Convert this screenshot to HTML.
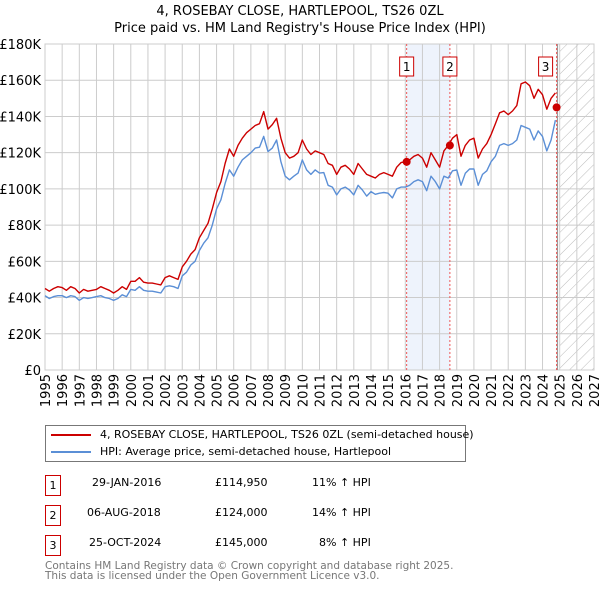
<!DOCTYPE html>
<html><head><meta charset="utf-8">
<style>
body{margin:0;background:#fff;font-family:"DejaVu Sans","Liberation Sans",sans-serif;}
#wrap{position:relative;width:600px;height:590px;overflow:hidden;}
svg text{font-family:"DejaVu Sans","Liberation Sans",sans-serif;}
.t{position:absolute;font-size:11px;color:#000;white-space:nowrap;}
.box{position:absolute;width:14px;height:19px;border:1px solid #c00;font-size:11px;text-align:center;line-height:19px;}
</style></head><body>
<div id="wrap">
<svg id="chart" width="600" height="420" style="position:absolute;left:0;top:0"></svg>
<div style="position:absolute;left:45px;top:425px;width:419px;height:35px;border:1px solid #777;">
  <div style="position:absolute;left:5px;top:2px;font-size:11px;white-space:nowrap;"><span style="display:inline-block;width:40px;height:2px;background:#c00;vertical-align:middle;margin-right:9px"></span>4, ROSEBAY CLOSE, HARTLEPOOL, TS26 0ZL (semi-detached house)</div>
  <div style="position:absolute;left:5px;top:19px;font-size:11px;white-space:nowrap;"><span style="display:inline-block;width:40px;height:2px;background:#5b8fd6;vertical-align:middle;margin-right:9px"></span>HPI: Average price, semi-detached house, Hartlepool</div>
</div>
<div class="box" style="left:45px;top:475px">1</div>
<div class="t" style="left:92px;top:476px">29-JAN-2016</div>
<div class="t" style="left:215px;top:476px">£114,950</div>
<div class="t" style="left:312px;top:476px">11% ↑ HPI</div>
<div class="box" style="left:45px;top:505px">2</div>
<div class="t" style="left:87px;top:506px">06-AUG-2018</div>
<div class="t" style="left:215px;top:506px">£124,000</div>
<div class="t" style="left:312px;top:506px">14% ↑ HPI</div>
<div class="box" style="left:45px;top:535px">3</div>
<div class="t" style="left:89px;top:536px">25-OCT-2024</div>
<div class="t" style="left:215px;top:536px">£145,000</div>
<div class="t" style="left:319px;top:536px">8% ↑ HPI</div>
<div class="t" style="left:45px;top:561px;color:#777;line-height:10px;font-size:10.5px">Contains HM Land Registry data © Crown copyright and database right 2025.<br>This data is licensed under the Open Government Licence v3.0.</div>
</div>
<script>
const hpi=[41,39.5,40.5,41, 41,40,41,40.5, 38.5,40,39.5,40, 40.5,41,40,39.5, 38.5,39.5,41.5,40.5,
44.5,44,46,44, 43.5,43.5,43,42.5, 46,46.5,46,45, 52,54,58,60, 66,70,73,80,
89,94,103,110.5, 107,112,116,118, 120,122.5,123,129, 120.6,122.5,127,115, 107,105,107,108.7,
116,110.5,108,110.5, 108.7,109,102,101, 96.7,100,101,99.4, 96.7,102,99.4,96, 98.5,97,97.6,98,
97.6,95,100,101, 101,102,104,105, 104,99,107,104, 100,107,106,110, 110.5,102,108.6,111,
111,102,108,110, 115,118,124,125, 124,125,127,135, 134,133,127,132, 129,121,127,138];
const price=[45,43.5,45,46, 45.5,44,46,45, 42.5,44.5,43.5,44, 44.5,46,45,44, 42.5,44,46,44.5,
49,49,51,48.5, 48,48,47.5,47, 51,52,51,50, 57,60,64,66.5, 73,77,81,89,
98,104,114,122, 118,124,128,131, 133,135,136,142.7, 133,135.5,139,128, 120,117,118,120,
127,122,119,121, 120,119,114,113, 108,112,113,111, 108,114,111,108, 107,106,108,109,
108,107,112,114.5, 115,116,118,119, 117,112,120,116, 112,121,124,128, 130,118,124,127,
128,117,122,125, 130,136,142,143, 141,143,146,158, 159,157,150,155, 152,144,150,153];
const saleYears=[2016.08,2018.6,2024.82];
const saleValues=[114.95,124,145];
const saleLabels=["1","2","3"];
const yTicks=[0,20,40,60,80,100,120,140,160,180];
const xYears=[1995,1996,1997,1998,1999,2000,2001,2002,2003,2004,2005,2006,2007,2008,2009,2010,2011,2012,2013,2014,2015,2016,2017,2018,2019,2020,2021,2022,2023,2024,2025,2026,2027];
const startYear=1995, dataEnd=2024.87, hatchStart=2025;

const NS="http://www.w3.org/2000/svg";
const svg=document.getElementById('chart');
const L=45,R=594,T=44,B=370;
const X=y=>L+(y-1995)*(R-L)/32;
const Y=v=>B-v*(B-T)/180;
function mk(tag,attrs,parent){const e=document.createElementNS(NS,tag);for(const k in attrs)e.setAttribute(k,attrs[k]);(parent||svg).appendChild(e);return e;}
let t=mk('text',{x:300,y:15,'text-anchor':'middle','font-size':13});t.textContent="4, ROSEBAY CLOSE, HARTLEPOOL, TS26 0ZL";


t=mk('text',{x:300,y:32,'text-anchor':'middle','font-size':13});t.textContent="Price paid vs. HM Land Registry's House Price Index (HPI)";


let sh=mk('rect',{x:X(saleYears[0]),y:T,width:X(saleYears[1])-X(saleYears[0]),height:B-T,fill:'#eef3fc'});


const defs=mk('defs',{});
const pat=mk('pattern',{id:'h',width:8,height:8,patternUnits:'userSpaceOnUse',patternTransform:'rotate(45)'},defs);
mk('line',{x1:0,y1:0,x2:0,y2:8,stroke:'#bbb','stroke-width':1},pat);
let hr=mk('rect',{x:X(hatchStart),y:T,width:R-X(hatchStart),height:B-T,fill:'url(#h)'});


yTicks.forEach(v=>{
  mk('line',{x1:L,x2:R,y1:Y(v),y2:Y(v),stroke:'#ccc','stroke-width':1});
  const tx=mk('text',{x:L-4,y:Y(v)+5,'text-anchor':'end','font-size':13});
  tx.textContent=v===0?'£0':'£'+v+'K';
  
  
});
xYears.forEach(yr=>{
  mk('line',{x1:X(yr),x2:X(yr),y1:T,y2:B,stroke:'#ccc','stroke-width':1});
  const tx=mk('text',{x:0,y:0,'text-anchor':'end','font-size':13,transform:`translate(${X(yr)+5},${B+4}) rotate(-90)`});
  tx.textContent=yr;
  
  
});
mk('rect',{x:L,y:T,width:R-L,height:B-T,fill:'none',stroke:'#ccc'});
mk('line',{x1:X(dataEnd),x2:X(dataEnd),y1:T,y2:B,stroke:'#999','stroke-width':1.2});
saleYears.forEach((sy,i)=>{
  const ln=mk('line',{x1:X(sy),x2:X(sy),y1:T,y2:B,stroke:'#e55','stroke-width':1,'stroke-dasharray':'2,2'});
  
  
});
function path(arr,color,name){
  const d=arr.map((v,i)=>(i?'L':'M')+X(startYear+i*0.25).toFixed(1)+','+Y(v).toFixed(1)).join('');
  const p=mk('path',{d:d,fill:'none',stroke:color,'stroke-width':1.4,'stroke-linejoin':'round'});
  
  
}
path(hpi,'#5b8fd6','hpi-line');
path(price,'#cc0000','price-paid-line');
saleYears.forEach((sy,i)=>{
  const c=mk('circle',{cx:X(sy),cy:Y(saleValues[i]),r:4,fill:'#cc0000'});
  
  
  const bx=i===2?X(sy)-11:X(sy);
  const g=mk('g',{});
  
  
  mk('rect',{x:bx-7,y:57,width:14,height:19,fill:'#fff',stroke:'#c00'},g);
  const tx=mk('text',{x:bx,y:71,'text-anchor':'middle','font-size':12},g);
  tx.textContent=saleLabels[i];
});
</script>
</body></html>
